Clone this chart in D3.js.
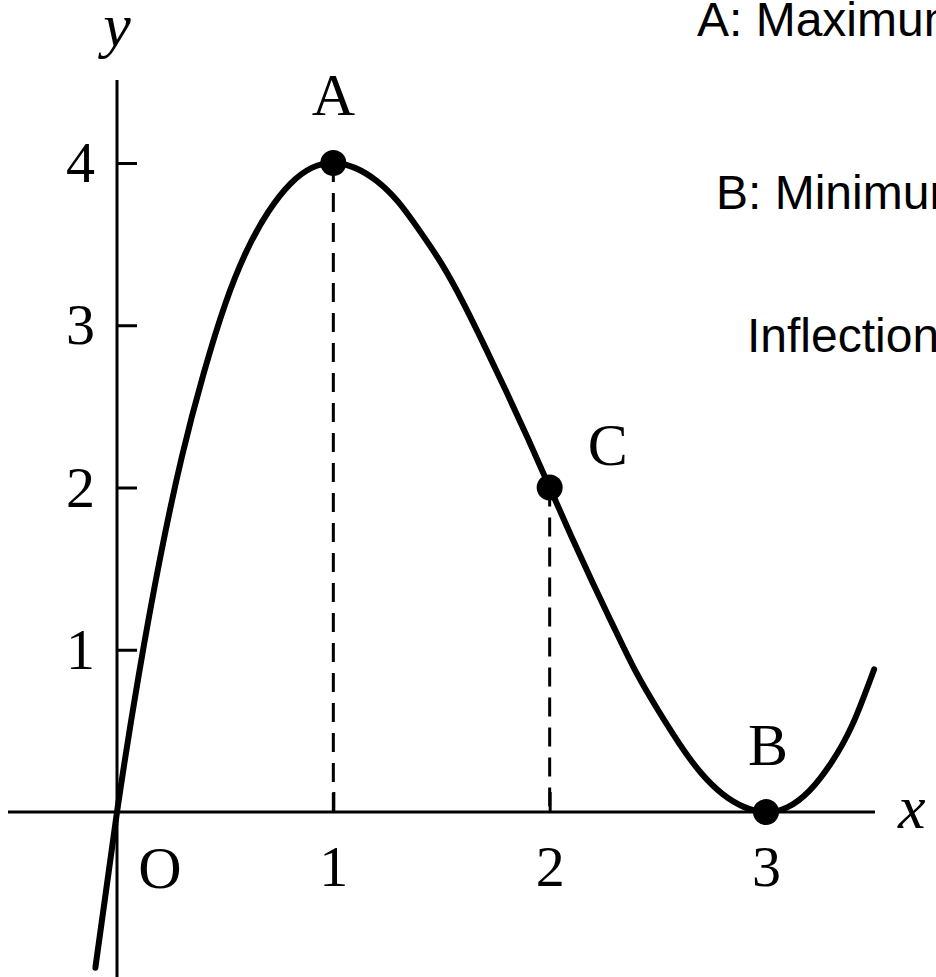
<!DOCTYPE html>
<html lang="en">
    <head>
        <meta charset="utf-8">
        <title>Cubic curve with maximum, minimum and inflection point</title>
        <script src="https://cdn.jsdelivr.net/npm/d3@7"></script>
        <style>
            body { margin: 0; background: #fff; }
        </style>
    </head>
    <body>
        <script type="text/javascript">

            // size of the picture
            var w = 936;
            var h = 977;

            // curve points
            var curveX = [-0.1, 0, 0.1, 0.2, 0.3, 0.4, 0.5, 0.6, 0.7, 0.8, 0.9, 1.0,
                          1.1, 1.2, 1.3, 1.4, 1.5, 1.6, 1.7, 1.8, 1.9, 2.0,
                          2.1, 2.2, 2.3, 2.4, 2.5, 2.6, 2.7, 2.8, 2.9, 3.0,
                          3.1, 3.2, 3.3, 3.4, 3.5];
            var curveY = [-0.96, 0, 0.84, 1.57, 2.19, 2.70, 3.13, 3.46, 3.70, 3.87, 3.97, 4.0,
                          3.97, 3.89, 3.76, 3.58, 3.38, 3.14, 2.87, 2.59, 2.30, 2.0,
                          1.70, 1.41, 1.13, 0.86, 0.63, 0.42, 0.24, 0.11, 0.03, 0,
                          0.03, 0.13, 0.30, 0.54, 0.88];

            // marked points
            var pointNames = ["A", "C", "B"];
            var pointX = [1, 2, 3];
            var pointY = [4, 2, 0];

            // dashed drop lines go from these points
            var dropNames = ["A", "C"];

            // ticks
            var xTicks = [1, 2, 3];
            var yTicks = [1, 2, 3, 4];

            // notes on the right
            var notes = ["A: Maximum", "B: Minimum", "Inflection"];

            // scales
            var x = d3.scaleLinear().domain([0, 3]).range([117, 766]);
            var y = d3.scaleLinear().domain([0, 4]).range([812, 163]);

            var serif = "'Liberation Serif', 'DejaVu Serif', serif";
            var sans = "'Liberation Sans', Arial, sans-serif";

            var svg = d3.select("body")
                .append("svg")
                .attr("width", w)
                .attr("height", h)
                .style("background", "#fff");

            // axis lines
            svg.append("line")
                .attr("x1", 8).attr("x2", 875)
                .attr("y1", y(0)).attr("y2", y(0))
                .attr("stroke", "#000").attr("stroke-width", 3);

            svg.append("line")
                .attr("x1", x(0)).attr("x2", x(0))
                .attr("y1", 80).attr("y2", h)
                .attr("stroke", "#000").attr("stroke-width", 3);

            // y axis: ticks pointing right, labels on the left
            var yAxis = svg.append("g")
                .attr("transform", "translate(" + x(0) + ",0)")
                .call(d3.axisLeft(y).tickValues(yTicks).tickFormat(d3.format("d"))
                    .tickSizeInner(-20).tickSizeOuter(0).tickPadding(22));
            yAxis.select(".domain").remove();
            yAxis.selectAll(".tick line").attr("stroke", "#000").attr("stroke-width", 3);
            yAxis.selectAll(".tick text")
                .attr("font-family", serif)
                .attr("font-size", 58)
                .attr("fill", "#000");

            // x axis: ticks pointing up, labels below
            var xAxis = svg.append("g")
                .attr("transform", "translate(0," + y(0) + ")")
                .call(d3.axisBottom(x).tickValues(xTicks).tickFormat(d3.format("d"))
                    .tickSizeInner(-20).tickSizeOuter(0).tickPadding(33));
            xAxis.select(".domain").remove();
            xAxis.selectAll(".tick line")
                .attr("stroke", "#000").attr("stroke-width", 3)
                .filter(function (d) { return d === 3; }).remove();  // hidden under B
            xAxis.selectAll(".tick text")
                .attr("font-family", serif)
                .attr("font-size", 58)
                .attr("fill", "#000");

            // origin and axis names
            svg.append("text")
                .attr("x", 160).attr("y", 888)
                .attr("text-anchor", "middle")
                .attr("font-family", serif).attr("font-size", 60)
                .text("O");

            svg.append("text")
                .attr("x", x(0)).attr("y", 46)
                .attr("text-anchor", "middle")
                .attr("font-family", serif).attr("font-size", 62)
                .attr("font-style", "italic")
                .text("y");

            svg.append("text")
                .attr("x", 898).attr("y", 828)
                .attr("font-family", serif).attr("font-size", 62)
                .attr("font-style", "italic")
                .text("x");

            // dashed drop lines
            dropNames.forEach(function (n) {
                var i = pointNames.indexOf(n);
                svg.append("line")
                    .attr("x1", x(pointX[i])).attr("x2", x(pointX[i]))
                    .attr("y1", y(pointY[i])).attr("y2", y(0))
                    .attr("stroke", "#000")
                    .attr("stroke-width", 3)
                    .attr("stroke-dasharray", "19 11");
            });

            // the curve (natural spline through the read points)
            var pts = curveX.map(function (v, i) { return [v, curveY[i]]; });
            var line = d3.line()
                .x(function (d) { return x(d[0]); })
                .y(function (d) { return y(d[1]); })
                .curve(d3.curveNatural);

            svg.append("path")
                .attr("d", line(pts))
                .attr("fill", "none")
                .attr("stroke", "#000")
                .attr("stroke-width", 6)
                .attr("stroke-linecap", "round")
                .attr("stroke-linejoin", "round");

            // points
            svg.selectAll("circle.pt")
                .data(pointNames)
                .enter()
                .append("circle")
                .attr("class", "pt")
                .attr("cx", function (d, i) { return x(pointX[i]); })
                .attr("cy", function (d, i) { return y(pointY[i]); })
                .attr("r", 13)
                .attr("fill", "#000");

            // point letters
            var letterOffset = { A: [0, -48], B: [2, -47], C: [58, -23] };
            svg.selectAll("text.pt")
                .data(pointNames)
                .enter()
                .append("text")
                .attr("class", "pt")
                .attr("x", function (d, i) { return x(pointX[i]) + letterOffset[d][0]; })
                .attr("y", function (d, i) { return y(pointY[i]) + letterOffset[d][1]; })
                .attr("text-anchor", "middle")
                .attr("font-family", serif)
                .attr("font-size", 60)
                .text(function (d) { return d; });

            // notes on the right, cut by the window edge as in the source
            var noteX = [697, 716, 747];
            var noteY = [36, 209, 352];
            svg.selectAll("text.note")
                .data(notes)
                .enter()
                .append("text")
                .attr("class", "note")
                .attr("x", function (d, i) { return noteX[i]; })
                .attr("y", function (d, i) { return noteY[i]; })
                .attr("font-family", sans)
                .attr("font-size", 48)
                .attr("fill", "#000")
                .text(function (d) { return d; });

        </script>
    </body>
</html>
